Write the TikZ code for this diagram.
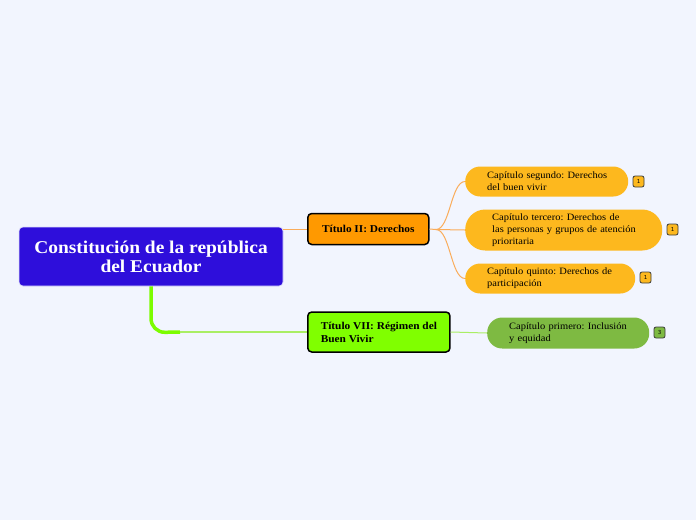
\documentclass[tikz,border=0pt]{standalone}
\usepackage{fontspec}
\setmainfont[FakeStretch=1.08]{Liberation Serif}
\setsansfont{DejaVu Sans}
\hyphenpenalty=10000
\exhyphenpenalty=10000
\hbadness=10000
\hfuzz=30pt
\begin{document}
\frenchspacing
\begin{tikzpicture}[x=1pt,y=-1pt,
  rootbox/.style={draw={rgb,255:red,220;green,220;blue,250},line width=0.6pt,fill=rootc,rounded corners=4pt,text=white,
    font=\fontsize{18}{19}\selectfont\bfseries,align=center,minimum width=264pt,minimum height=59pt,inner sep=0pt},
  titlebox/.style={draw=black,line width=1.5pt,rounded corners=4pt,font=\fontsize{10.5}{13}\selectfont\bfseries,
    align=left,inner xsep=13pt,inner ysep=0pt,anchor=west},
  chbox/.style={fill=#1,font=\fontsize{9.7}{12}\selectfont,align=left,inner ysep=0pt,anchor=west},
  badge/.style={draw={rgb,255:red,60;green,60;blue,60},line width=0.8pt,fill=#1,rounded corners=2pt,
    minimum width=11pt,minimum height=11pt,inner sep=0pt,font=\sffamily\fontsize{5.5}{6}\selectfont},
  oline/.style={draw=olc,line width=1pt},
]
\definecolor{bgc}{RGB}{242,245,254}
\definecolor{rootc}{RGB}{46,14,219}
\definecolor{t2c}{RGB}{255,153,0}
\definecolor{t7c}{RGB}{128,255,0}
\definecolor{chc}{RGB}{253,184,30}
\definecolor{chg}{RGB}{126,186,66}
\definecolor{olc}{RGB}{250,172,90}
\definecolor{glc}{RGB}{124,252,0}
\definecolor{glt}{RGB}{170,238,100}
\useasboundingbox[fill=bgc] (0,0) rectangle (696,520);

\coordinate (gbend) at (180,332);
\coordinate (tbr) at (436,229.5);

% nodes
\node[rootbox] (root) at (151,256.5) {Constitución de la república\\del Ecuador};
\node[titlebox,fill=t2c,minimum width=121pt,minimum height=31pt] (t2) at (307,229) {Título II: Derechos};
\node[titlebox,fill=t7c,minimum width=142pt,minimum height=40pt] (t7) at (307,332) {Título VII: Régimen del\\Buen Vivir};

\node[chbox=chc,rounded corners=15pt,inner xsep=22pt,text width=119pt,minimum height=30pt] (c1) at (465,181.5) {\mbox{Capítulo segundo: Derechos}\\\mbox{del buen vivir}};
\node[chbox=chc,rounded corners=20pt,inner xsep=27pt,text width=143pt,minimum height=41pt] (c2) at (465,230) {\mbox{Capítulo tercero: Derechos de}\\\mbox{las personas y grupos de atención}\\\mbox{prioritaria}};
\node[chbox=chc,rounded corners=15pt,inner xsep=22pt,text width=126pt,minimum height=30pt] (c3) at (465,278.5) {\mbox{Capítulo quinto: Derechos de}\\\mbox{participación}};
\node[chbox=chg,rounded corners=15pt,inner xsep=22pt,text width=118pt,minimum height=31pt] (c4) at (487,333) {\mbox{Capítulo primero: Inclusión}\\\mbox{y equidad}};

\node[badge=chc] (b1) at (638.5,181.5) {1};
\node[badge=chc] (b2) at (672.5,229.5) {1};
\node[badge=chc] (b3) at (645.5,277.5) {1};
\node[badge=chg] (b4) at (659.5,332.5) {3};

% connectors
\draw[oline] (root.east |- t2.west) -- (t2.west);
\draw[draw=glc,line width=3.5pt] (root.south) -- ++(0,32) .. controls +(0,8) and +(-8,0) .. ++(14,14) -- (gbend);
\draw[draw=glt,line width=1.2pt] (gbend) -- (t7.west);
\draw[oline] (t2.east) -- (tbr);
\draw[oline] (tbr) .. controls +(14,0) and +(-14,0) .. (c1.west);
\draw[oline] (tbr) -- (c2.west);
\draw[oline] (tbr) .. controls +(14,0) and +(-14,0) .. (c3.west);
\draw[draw=glt,line width=1pt] (t7.east) -- (c4.west);
\end{tikzpicture}
\end{document}
